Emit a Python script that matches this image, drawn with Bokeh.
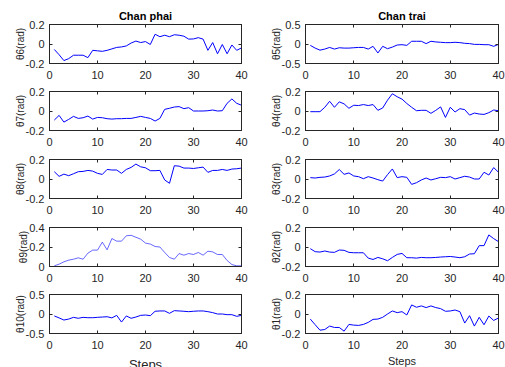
from bokeh.plotting import figure
from bokeh.layouts import column, row
from bokeh.models import LinearAxis, FixedTicker, Spacer
from bokeh.embed import file_html
from bokeh.resources import INLINE

steps = list(range(1, 41))

theta6 = [-0.056, -0.11, -0.17, -0.15, -0.115, -0.115, -0.115, -0.14, -0.065, -0.07,
          -0.075, -0.065, -0.05, -0.035, -0.03, -0.02, 0.01, 0.03, 0.015, 0.025,
          -0.005, 0.1, 0.075, 0.09, 0.075, 0.095, 0.09, 0.08, 0.05, 0.052,
          0.065, 0.05, -0.065, 0.015, -0.1, -0.005, -0.1, -0.01, -0.065, -0.04]
theta7 = [-0.093, -0.045, -0.114, -0.086, -0.055, -0.076, -0.069, -0.052, -0.083, -0.066,
          -0.069, -0.079, -0.083, -0.079, -0.079, -0.076, -0.076, -0.066, -0.055, -0.066,
          -0.076, -0.103, -0.076, 0.017, 0.028, 0.041, 0.045, 0.024, 0.034, 0.0,
          0.0, 0.0, 0.003, 0.01, 0.0, 0.003, 0.079, 0.124, 0.079, 0.059]
theta8 = [0.075, 0.027, 0.05, 0.034, 0.054, 0.075, 0.078, 0.088, 0.081, 0.058,
          0.047, 0.098, 0.092, 0.092, 0.058, 0.098, 0.119, 0.153, 0.125, 0.115,
          0.085, 0.085, 0.088, -0.01, -0.044, 0.136, 0.132, 0.112, 0.112, 0.108,
          0.115, 0.122, 0.068, 0.088, 0.088, 0.098, 0.088, 0.102, 0.105, 0.112]
theta9 = [0.007, 0.024, 0.048, 0.065, 0.075, 0.089, 0.075, 0.137, 0.168, 0.168,
          0.25, 0.171, 0.287, 0.26, 0.26, 0.315, 0.32, 0.30, 0.28, 0.24,
          0.23, 0.205, 0.20, 0.144, 0.092, 0.075, 0.133, 0.116, 0.133, 0.123,
          0.144, 0.116, 0.157, 0.15, 0.123, 0.123, 0.062, 0.02, 0.007, 0.007]
theta10 = [-0.05, -0.10, -0.155, -0.13, -0.086, -0.11, -0.086, -0.095, -0.095, -0.086,
           -0.078, -0.07, -0.10, -0.035, -0.207, -0.05, -0.11, -0.078, -0.035, -0.026,
           -0.043, 0.07, 0.078, 0.078, 0.017, 0.086, 0.078, 0.07, 0.06, 0.07,
           0.078, 0.078, 0.06, 0.035, 0.0, 0.0, -0.017, -0.017, -0.06, -0.035]
theta5 = [-0.035, -0.105, -0.158, -0.13, -0.088, -0.13, -0.096, -0.105, -0.105, -0.096,
          -0.088, -0.088, -0.13, -0.06, -0.23, -0.06, -0.12, -0.08, -0.026, -0.018,
          -0.035, 0.07, 0.07, 0.07, 0.01, 0.07, 0.053, 0.044, 0.035, 0.035,
          0.044, 0.035, 0.018, 0.01, -0.01, -0.01, -0.018, -0.018, -0.06, -0.01]
theta4 = [-0.007, -0.007, -0.007, 0.038, 0.10, 0.038, 0.094, 0.073, 0.028, 0.059,
          0.056, 0.066, 0.056, 0.066, 0.007, 0.031, 0.111, 0.177, 0.146, 0.122,
          0.077, 0.038, 0.003, 0.007, 0.007, -0.024, 0.007, 0.042, -0.066, 0.038,
          -0.01, 0.024, 0.014, -0.042, -0.021, -0.031, -0.035, -0.017, 0.01, 0.003]
theta3 = [0.014, 0.01, 0.017, 0.02, 0.031, 0.052, 0.097, 0.048, 0.062, 0.031,
          0.024, 0.003, 0.024, 0.01, -0.007, -0.021, 0.045, 0.103, 0.014, 0.024,
          0.017, -0.055, -0.038, -0.01, 0.01, -0.01, 0.003, 0.017, 0.014, 0.024,
          0.0, 0.014, 0.028, 0.02, 0.0, 0.0, 0.069, 0.041, 0.117, 0.069]
theta2 = [-0.017, -0.048, -0.052, -0.041, -0.052, -0.055, -0.031, -0.034, -0.055, -0.059,
          -0.059, -0.059, -0.114, -0.128, -0.107, -0.121, -0.141, -0.107, -0.076, -0.066,
          -0.11, -0.11, -0.114, -0.107, -0.11, -0.11, -0.107, -0.103, -0.10, -0.097,
          -0.103, -0.11, -0.10, -0.072, -0.069, 0.014, 0.014, 0.124, 0.086, 0.055]
theta1 = [-0.052, -0.11, -0.166, -0.159, -0.124, -0.138, -0.138, -0.176, -0.107, -0.114,
          -0.117, -0.107, -0.086, -0.055, -0.052, -0.034, 0.0, 0.031, 0.014, 0.024,
          -0.01, 0.093, 0.069, 0.083, 0.066, 0.083, 0.066, 0.055, 0.028, 0.031,
          0.041, 0.024, -0.093, -0.017, -0.124, -0.034, -0.11, -0.021, -0.066, -0.041]

left_labels = ["\u03b86(rad)", "\u03b87(rad)", "\u03b88(rad)", "\u03b89(rad)", "\u03b810(rad)"]
right_labels = ["\u03b85(rad)", "\u03b84(rad)", "\u03b83(rad)", "\u03b82(rad)", "\u03b81(rad)"]
left_series = [theta6, theta7, theta8, theta9, theta10]
right_series = [theta5, theta4, theta3, theta2, theta1]
left_ticks = [[-0.2, 0, 0.2], [-0.2, 0, 0.2], [-0.2, 0, 0.2], [0, 0.2, 0.4], [-0.5, 0, 0.5]]
right_ticks = [[-0.5, 0, 0.5], [-0.2, 0, 0.2], [-0.2, 0, 0.2], [-0.2, 0, 0.2], [-0.2, 0, 0.2]]
x_ticks = [0, 10, 20, 30, 40]
titles = ["Chan phai", "Chan trai"]

AX = "#262626"
FONT = "Liberation Sans"
TOPS = [24, 6, 7, 7, 6]
BOTS = [22, 22, 22, 22, 34]


def fmt(v):
    return "%g" % v


def make(i, side):
    series = left_series[i] if side == 0 else right_series[i]
    ticks = left_ticks[i] if side == 0 else right_ticks[i]
    ylab = left_labels[i] if side == 0 else right_labels[i]
    p = figure(frame_width=(192 if side == 0 else 193), frame_height=39,
               x_range=(0, 40), y_range=(ticks[0], ticks[-1]),
               output_backend="svg", toolbar_location=None,
               min_border_left=40,
               min_border_right=(24 if side == 0 else 7),
               min_border_top=TOPS[i], min_border_bottom=BOTS[i],
               x_axis_location=None, y_axis_location=None,
               background_fill_color="white", border_fill_color="white")
    p.grid.visible = False
    p.outline_line_color = AX
    p.outline_line_width = 1

    xa = LinearAxis(ticker=FixedTicker(ticks=x_ticks))
    ya = LinearAxis(ticker=FixedTicker(ticks=ticks),
                    major_label_overrides={t: fmt(t) for t in ticks})
    for ax in (xa, ya):
        ax.major_tick_in = 3
        ax.major_tick_out = 0
        ax.minor_tick_line_color = None
        ax.axis_line_color = AX
        ax.major_tick_line_color = AX
        ax.major_label_text_color = AX
        ax.major_label_text_font = FONT
        ax.major_label_text_font_size = "11px"
        ax.axis_label_text_color = AX
        ax.axis_label_text_font = FONT
        ax.axis_label_text_font_style = "normal"
    xa.major_label_standoff = 7
    ya.major_label_standoff = 5
    ya.axis_label = ylab
    ya.axis_label_text_font_size = "10px"
    ya.axis_label_standoff = -3
    if i == 4:
        xa.axis_label = "Steps"
        xa.axis_label_standoff = 5 if side == 0 else 3
        xa.axis_label_text_font_size = "13px" if side == 0 else "11px"
    p.add_layout(xa, "below")
    p.add_layout(ya, "left")

    # mirrored ticks on top and right (no labels)
    xt = LinearAxis(ticker=FixedTicker(ticks=x_ticks))
    yr = LinearAxis(ticker=FixedTicker(ticks=ticks))
    for ax in (xt, yr):
        ax.major_tick_in = 3
        ax.major_tick_out = 0
        ax.minor_tick_line_color = None
        ax.axis_line_color = AX
        ax.major_tick_line_color = AX
        ax.major_label_text_color = None
        ax.major_label_text_font_size = "1px"
        ax.major_label_standoff = 0
    p.add_layout(xt, "above")
    p.add_layout(yr, "right")

    if i == 0:
        p.title.text = titles[side]
        p.title.align = "center"
        p.title.text_font = FONT
        p.title.text_font_size = "11px"
        p.title.text_font_style = "bold"
        p.title.text_color = "#000000"
        p.title.standoff = 5

    lw = 0.6 if (side == 0 and i == 3) else 1.0
    p.line(steps, series, line_color="#0000ff", line_width=lw)
    return p


rows = []
for i in range(5):
    rows.append(row(Spacer(width=9), make(i, 0), make(i, 1)))
layout = column(*rows)

open("out.html", "w").write(file_html(layout, INLINE))
